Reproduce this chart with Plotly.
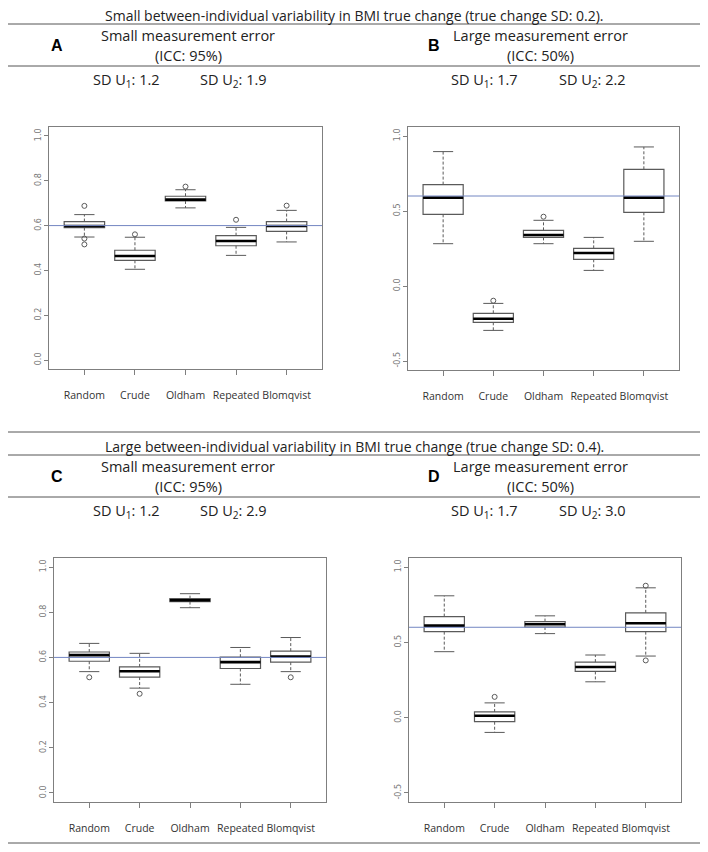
import plotly.graph_objects as go

# the page body keeps an 8px margin, so the figure is drawn 8px in from the corner
PAD = 8
W, H = 708 - 2 * PAD, 852 - 2 * PAD

methods = ["Random", "Crude", "Oldham", "Repeated", "Blomqvist"]
true_value = 0.6

# panel A: small true-change SD, small measurement error
a_low = [0.549, 0.405, 0.679, 0.467, 0.527]
a_q1 = [0.591, 0.445, 0.710, 0.510, 0.574]
a_med = [0.598, 0.464, 0.716, 0.531, 0.598]
a_q3 = [0.618, 0.490, 0.731, 0.555, 0.618]
a_high = [0.649, 0.548, 0.760, 0.592, 0.668]
a_out = [[0.688, 0.542, 0.516], [0.561], [0.774], [0.626], [0.689]]

# panel B: small true-change SD, large measurement error
b_low = [0.282, -0.296, 0.282, 0.104, 0.298]
b_q1 = [0.478, -0.242, 0.324, 0.178, 0.491]
b_med = [0.589, -0.218, 0.340, 0.220, 0.589]
b_q3 = [0.676, -0.182, 0.371, 0.251, 0.778]
b_high = [0.896, -0.116, 0.438, 0.324, 0.927]
b_out = [[], [-0.098], [0.462], [], []]

# panel C: large true-change SD, small measurement error
c_low = [0.537, 0.464, 0.820, 0.481, 0.537]
c_q1 = [0.583, 0.513, 0.847, 0.551, 0.579]
c_med = [0.610, 0.539, 0.853, 0.579, 0.604]
c_q3 = [0.624, 0.558, 0.860, 0.601, 0.628]
c_high = [0.662, 0.618, 0.882, 0.644, 0.688]
c_out = [[0.512], [0.439], [], [], [0.512]]

# panel D: large true-change SD, large measurement error
d_low = [0.438, -0.098, 0.558, 0.238, 0.409]
d_q1 = [0.571, -0.027, 0.602, 0.307, 0.571]
d_med = [0.611, 0.013, 0.620, 0.336, 0.627]
d_q3 = [0.671, 0.038, 0.638, 0.369, 0.696]
d_high = [0.809, 0.098, 0.676, 0.416, 0.862]
d_out = [[], [0.138], [], [], [0.876, 0.380]]

ticks_small = [0.0, 0.2, 0.4, 0.6, 0.8, 1.0]
ticks_large = [-0.5, 0.0, 0.5, 1.0]

block_titles = [
    "Small between-individual variability in BMI true change (true change SD: 0.2).",
    "Large between-individual variability in BMI true change (true change SD: 0.4).",
]
letters = ["A", "B", "C", "D"]
error_labels = ["Small measurement error", "Large measurement error"]
icc_labels = ["(ICC: 95%)", "(ICC: 50%)"]
sd_u1 = ["1.2", "1.7", "1.2", "1.7"]
sd_u2 = ["1.9", "2.2", "2.9", "3.0"]

# screen pixel boxes of the four plot frames: left, right, top, bottom
frames = [(49, 322, 127, 369), (408, 679, 127, 370),
          (54, 326, 558, 802), (409, 681, 558, 802)]


def px(x): return (x - PAD) / W
def py(y): return 1 - (y - PAD) / H


panels = [
    (a_low, a_q1, a_med, a_q3, a_high, a_out, ticks_small),
    (b_low, b_q1, b_med, b_q3, b_high, b_out, ticks_large),
    (c_low, c_q1, c_med, c_q3, c_high, c_out, ticks_small),
    (d_low, d_q1, d_med, d_q3, d_high, d_out, ticks_large),
]

fig = go.Figure()
pos = list(range(1, len(methods) + 1))
grey = "#5a5a5a"

for k, (lo, q1, med, q3, hi, out, yt) in enumerate(panels):
    xa = "x" if k == 0 else f"x{k+1}"
    ya = "y" if k == 0 else f"y{k+1}"

    fig.add_trace(go.Box(
        x=pos, q1=q1, median=med, q3=q3, lowerfence=q1, upperfence=q3,
        width=0.8, whiskerwidth=0, fillcolor="white",
        line=dict(color=grey, width=1.2), boxpoints=False,
        xaxis=xa, yaxis=ya, showlegend=False, hoverinfo="skip",
    ))

    wx, wy, cx, cy, mx, my = [], [], [], [], [], []
    for i, p in enumerate(pos):
        wx += [p, p, None, p, p, None]
        wy += [q3[i], hi[i], None, q1[i], lo[i], None]
        cx += [p - 0.2, p + 0.2, None, p - 0.2, p + 0.2, None]
        cy += [hi[i], hi[i], None, lo[i], lo[i], None]
        mx += [p - 0.4, p + 0.4, None]
        my += [med[i], med[i], None]

    fig.add_trace(go.Scatter(x=wx, y=wy, mode="lines", xaxis=xa, yaxis=ya,
                             line=dict(color=grey, width=1, dash="3px,2px"),
                             showlegend=False, hoverinfo="skip"))
    fig.add_trace(go.Scatter(x=cx, y=cy, mode="lines", xaxis=xa, yaxis=ya,
                             line=dict(color=grey, width=1),
                             showlegend=False, hoverinfo="skip"))
    fig.add_trace(go.Scatter(x=mx, y=my, mode="lines", xaxis=xa, yaxis=ya,
                             line=dict(color="black", width=2.6),
                             showlegend=False, hoverinfo="skip"))

    ox = [p for p, o in zip(pos, out) for _ in o]
    oy = [v for o in out for v in o]
    fig.add_trace(go.Scatter(x=ox, y=oy, mode="markers", xaxis=xa, yaxis=ya,
                             marker=dict(symbol="circle-open", size=5, color=grey,
                                         line=dict(width=1)),
                             showlegend=False, hoverinfo="skip"))

    # reference line at the true value
    fig.add_shape(type="line", xref=f"{xa} domain", yref=ya, x0=0, x1=1,
                  y0=true_value, y1=true_value, line=dict(color="#7386c2", width=1))

    l, r, t, b = frames[k]
    span = yt[-1] - yt[0]
    fig.layout[("xaxis" if k == 0 else f"xaxis{k+1}")] = dict(
        domain=[px(l), px(r)], range=[0.3, 5.7], anchor=ya,
        tickvals=pos, ticktext=methods, tickangle=0, ticks="outside", ticklen=5,
        tickcolor="#7f7f7f", showline=True, mirror=True, linecolor="#7f7f7f",
        showgrid=False, zeroline=False, ticklabelstandoff=11,
        tickfont=dict(family="Open Sans", size=10.5, color="#333333"),
    )
    fig.layout[("yaxis" if k == 0 else f"yaxis{k+1}")] = dict(
        domain=[py(b), py(t)], range=[yt[0] - 0.04 * span, yt[-1] + 0.04 * span],
        anchor=xa, tickvals=yt, ticktext=[f"{v:.1f}" for v in yt],
        tickangle=-90, ticks="outside", ticklen=4, tickcolor="#7f7f7f",
        showline=True, mirror=True, linecolor="#7f7f7f",
        showgrid=False, zeroline=False,
        tickfont=dict(family="DejaVu Sans", size=8, color="#777777"),
    )

# header blocks
ann = []
rules_y = []
for j in range(2):
    off = j * 431
    rules_y += [1 + off, 24 + off, 66 + off]
    ann.append(dict(x=px(354), y=py(15 + off), text=block_titles[j], size=14))
    for s in range(2):
        k = 2 * j + s
        cx = [188, 540][s]
        ann.append(dict(x=px([57, 434][s]), y=py(45 + off),
                        text=f"<b>{letters[k]}</b>", size=16,
                        family="Liberation Sans", color="black"))
        ann.append(dict(x=px(cx), y=py(35 + off), text=error_labels[s], size=14.5))
        ann.append(dict(x=px(cx), y=py(56 + off), text=icc_labels[s], size=14.5))
        ann.append(dict(x=px([126, 484][s]), y=py(80 + off),
                        text=f"SD U<sub>1</sub>: {sd_u1[k]}", size=14.5))
        ann.append(dict(x=px([234, 592][s]), y=py(80 + off),
                        text=f"SD U<sub>2</sub>: {sd_u2[k]}", size=14.5))
rules_y.append(H + PAD - 1)

annotations = []
for a in ann:
    annotations.append(dict(
        x=a["x"], y=a["y"], text=a["text"], xref="paper", yref="paper",
        showarrow=False, xanchor="center", yanchor="middle",
        font=dict(family=a.get("family", "Open Sans"), size=a["size"],
                  color=a.get("color", "#222222")),
    ))

for y in rules_y:
    fig.add_shape(type="line", xref="paper", yref="paper", x0=0, x1=1,
                  y0=py(y), y1=py(y), line=dict(color="#555555", width=1))

fig.update_layout(
    width=W, height=H, margin=dict(l=0, r=0, t=0, b=0),
    plot_bgcolor="white", paper_bgcolor="white",
    annotations=annotations, showlegend=False,
)

fig.write_html("out.html")
